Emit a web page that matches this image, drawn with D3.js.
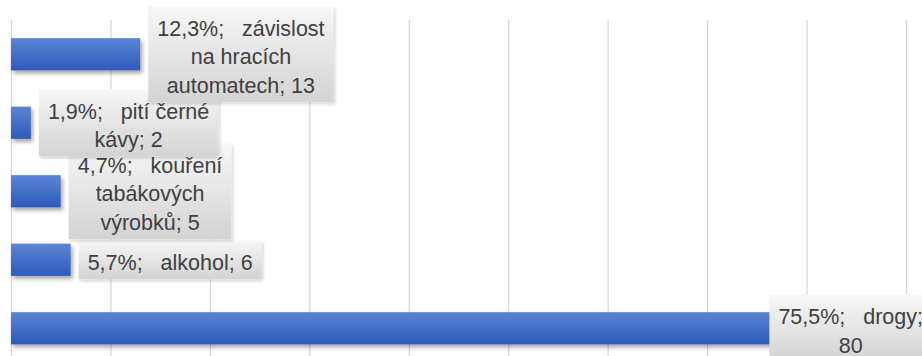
<!DOCTYPE html>
<html>
<head>
<meta charset="utf-8">
<script src="https://cdn.jsdelivr.net/npm/d3@7"></script>
<style>
  html, body { margin: 0; padding: 0; background: #ffffff; }
  svg { display: block; }
</style>
</head>
<body>
<svg id="chart" width="922" height="356"></svg>
<script>
// Categories listed top to bottom, as drawn
const categories = ["závislost na hracích automatech", "pití černé kávy", "kouření tabákových výrobků", "alkohol", "drogy"];
const counts = [13, 2, 5, 6, 80];
const percents = ["12,3%", "1,9%", "4,7%", "5,7%", "75,5%"];
const xTicks = [0, 10, 20, 30, 40, 50, 60, 70, 80, 90];

const W = 922, H = 356;
const margin = { top: 20, left: 11, right: 16 };
const plotBottom = 362.5;

const svg = d3.select("#chart");
const defs = svg.append("defs");

const barGrad = defs.append("linearGradient")
  .attr("id", "barGrad").attr("x1", 0).attr("y1", 0).attr("x2", 0).attr("y2", 1);
barGrad.append("stop").attr("offset", "0%").attr("stop-color", "#5d84d3");
barGrad.append("stop").attr("offset", "100%").attr("stop-color", "#2c5bbd");

const boxGrad = defs.append("linearGradient")
  .attr("id", "boxGrad").attr("x1", 0).attr("y1", 0).attr("x2", 0).attr("y2", 1);
boxGrad.append("stop").attr("offset", "0%").attr("stop-color", "#f7f7f7");
boxGrad.append("stop").attr("offset", "100%").attr("stop-color", "#d3d3d3");

const shadow = defs.append("filter").attr("id", "shadow")
  .attr("x", "-10%").attr("y", "-30%").attr("width", "130%").attr("height", "180%");
shadow.append("feDropShadow").attr("dx", 2).attr("dy", 3).attr("stdDeviation", 2.2)
  .attr("flood-color", "#000").attr("flood-opacity", 0.35);

const boxShadow = defs.append("filter").attr("id", "boxShadow")
  .attr("x", "-10%").attr("y", "-20%").attr("width", "130%").attr("height", "150%");
boxShadow.append("feDropShadow").attr("dx", 1.5).attr("dy", 2).attr("stdDeviation", 1.8)
  .attr("flood-color", "#000").attr("flood-opacity", 0.18);

const x = d3.scaleLinear().domain([0, 90]).range([margin.left, W - margin.right]);
const y = d3.scaleBand().domain(categories).range([margin.top, plotBottom])
  .paddingInner(0.53).paddingOuter(0.265);

// Vertical gridlines
const xAxis = d3.axisBottom(x).tickValues(xTicks).tickSize(-(plotBottom - margin.top)).tickFormat("");
const gAxis = svg.append("g").attr("transform", `translate(0,${plotBottom})`).call(xAxis);
gAxis.select(".domain").remove();
gAxis.selectAll(".tick line").attr("stroke", "#d9d9d9").attr("stroke-width", 1.3);

const rows = categories.map((c, i) => ({ cat: c, val: counts[i], pct: percents[i] }));

// Bars
svg.append("g").selectAll("rect").data(rows).join("rect")
  .attr("x", x(0))
  .attr("y", d => y(d.cat))
  .attr("width", d => x(d.val) - x(0))
  .attr("height", y.bandwidth())
  .attr("fill", "url(#barGrad)")
  .attr("filter", "url(#shadow)");

// Data labels: drawn from the bottom category upward so upper callouts sit on top
const fontSize = 21.5, lineH = 28.6, maxLine = 170, padX = 9;
const labelsG = svg.append("g")
  .attr("font-family", "'Liberation Sans', Arial, sans-serif")
  .attr("font-size", fontSize)
  .attr("fill", "#404040");

const measurer = labelsG.append("text").attr("xml:space", "preserve").style("white-space", "pre");
function textWidth(s) { measurer.text(s); return measurer.node().getComputedTextLength(); }
function wrap(str) {
  const words = str.split(/ (?=\S)/);
  const lines = [];
  let cur = "";
  words.forEach(w => {
    const trial = cur ? cur + " " + w : w;
    if (cur && textWidth(trial) > maxLine) { lines.push(cur); cur = w; }
    else cur = trial;
  });
  if (cur) lines.push(cur);
  return lines;
}

rows.slice().reverse().forEach(d => {
  const text = `${d.pct};   ${d.cat}; ${d.val}`;
  const lines = wrap(text);
  const widths = lines.map(textWidth);
  const bw = d3.max(widths) + 2 * padX;
  const bh = lines.length * lineH + 10;
  const cy = y(d.cat) + y.bandwidth() / 2;
  const left = Math.min(x(d.val) + 8, W + 10 - bw);
  const top = cy - bh / 2;
  const g = labelsG.append("g");
  g.append("rect").attr("x", left).attr("y", top).attr("width", bw).attr("height", bh)
    .attr("fill", "url(#boxGrad)").attr("filter", "url(#boxShadow)");
  g.selectAll("text").data(lines).join("text")
    .attr("xml:space", "preserve").style("white-space", "pre")
    .attr("x", left + bw / 2)
    .attr("y", (l, i) => top + 29.5 + i * lineH)
    .attr("text-anchor", "middle")
    .text(l => l);
});
measurer.remove();
</script>
</body>
</html>
